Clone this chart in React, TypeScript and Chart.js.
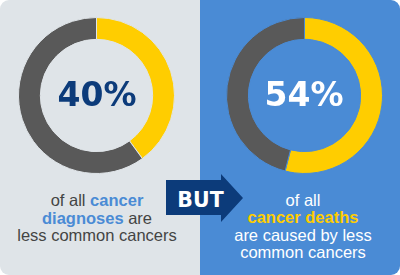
import React, { useEffect, useRef } from "react";
import { Chart, registerables } from "chart.js";

Chart.register(...registerables);

const categories = ["Less common cancers", "All other cancers"];
const diagnosesValues = [40, 60];
const deathsValues = [54, 46];
const centerLabels = ["40%", "54%"];

const YELLOW = "#ffcd00";
const GRAY = "#595959";
const LEFT_BG = "#dfe4e8";
const RIGHT_BG = "#4a8bd5";
const NAVY = "#0c3b7a";

function Donut(props: { values: number[]; bg: string; left: number; top: number; size: number }) {
  const ref = useRef<HTMLCanvasElement | null>(null);
  useEffect(() => {
    if (!ref.current) return;
    const chart = new Chart(ref.current, {
      type: "doughnut",
      data: {
        labels: categories,
        datasets: [
          {
            data: props.values,
            backgroundColor: [YELLOW, GRAY],
            borderColor: props.bg,
            borderWidth: 1,
          },
        ],
      },
      options: {
        animation: false,
        responsive: false,
        maintainAspectRatio: false,
        cutout: "72%",
        layout: { padding: 0 },
        plugins: { legend: { display: false }, tooltip: { enabled: false } },
        events: [],
      },
    });
    return () => chart.destroy();
  }, []);
  return (
    <canvas
      ref={ref}
      width={props.size}
      height={props.size}
      style={{ position: "absolute", left: props.left, top: props.top, width: props.size, height: props.size }}
    />
  );
}

export default function App() {
  const textFont = "'Liberation Sans', Arial, sans-serif";
  const bigFont = "'DejaVu Sans', sans-serif";
  return (
    <div style={{ position: "fixed", left: 0, top: 0, width: 400, height: 275, background: "#fff" }}>
      <div
        style={{
          position: "absolute",
          left: 0,
          top: 0,
          width: 400,
          height: 275,
          borderRadius: 9,
          overflow: "hidden",
        }}
      >
        <div style={{ position: "absolute", left: 0, top: 0, width: 200, height: 275, background: LEFT_BG }} />
        <div style={{ position: "absolute", left: 200, top: 0, width: 200, height: 275, background: RIGHT_BG }} />

        <Donut values={diagnosesValues} bg={LEFT_BG} left={18} top={17} size={157} />
        <Donut values={deathsValues} bg={RIGHT_BG} left={226} top={17} size={157} />

        <div
          style={{
            position: "absolute",
            left: 97 - 60,
            top: 95 - 20,
            width: 120,
            height: 40,
            lineHeight: "40px",
            textAlign: "center",
            fontFamily: bigFont,
            fontWeight: "bold",
            fontSize: 33,
            color: NAVY,
          }}
        >
          {centerLabels[0]}
        </div>
        <div
          style={{
            position: "absolute",
            left: 304 - 60,
            top: 95 - 20,
            width: 120,
            height: 40,
            lineHeight: "40px",
            textAlign: "center",
            fontFamily: bigFont,
            fontWeight: "bold",
            fontSize: 33,
            color: "#ffffff",
          }}
        >
          {centerLabels[1]}
        </div>

        <div
          style={{
            position: "absolute",
            left: 97 - 95,
            top: 192,
            width: 190,
            textAlign: "center",
            fontFamily: textFont,
            fontSize: 16.5,
            lineHeight: "17.5px",
            color: "#444444",
          }}
        >
          of all <b style={{ color: RIGHT_BG }}>cancer</b>
          <br />
          <b style={{ color: RIGHT_BG }}>diagnoses</b> are
          <br />
          less common cancers
        </div>

        <div
          style={{
            position: "absolute",
            left: 303 - 95,
            top: 192,
            width: 190,
            textAlign: "center",
            fontFamily: textFont,
            fontSize: 16.5,
            lineHeight: "17.3px",
            color: "#ffffff",
          }}
        >
          of all
          <br />
          <b style={{ color: YELLOW }}>cancer deaths</b>
          <br />
          are caused by less
          <br />
          common cancers
        </div>

        <div
          style={{
            position: "absolute",
            left: 166,
            top: 174,
            width: 77,
            height: 48,
            background: NAVY,
            clipPath: "polygon(0px 6px, 55px 6px, 55px 0px, 77px 24px, 55px 48px, 55px 41px, 0px 41px)",
          }}
        />
        <div
          style={{
            position: "absolute",
            left: 200.5 - 30,
            top: 199.5 - 12,
            width: 60,
            height: 24,
            lineHeight: "24px",
            textAlign: "center",
            fontFamily: bigFont,
            fontWeight: "bold",
            fontSize: 20.5,
            color: "#ffffff",
          }}
        >
          BUT
        </div>
      </div>
    </div>
  );
}
